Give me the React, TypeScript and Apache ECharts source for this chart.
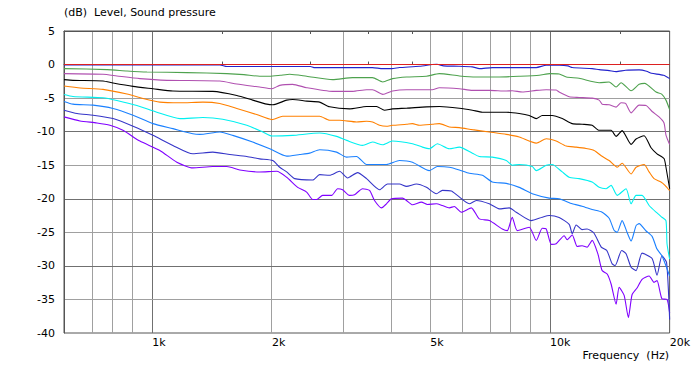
import React, { useEffect, useRef } from 'react';
import * as echarts from 'echarts';

// ---- axis / tick data ----
const xLabelFreqs = [1000, 2000, 5000, 10000, 20000];
const xLabelTexts = ['1k', '2k', '5k', '10k', '20k'];
const minorTickFreqs = [1500, 2500, 3500, 4500, 15000];
const lightGridFreqs = [700, 800, 900, 2000, 3000, 4000, 5000, 6000, 7000, 8000, 9000];
const darkGridFreqs = [1000, 10000];
const lightGridDb = [-35, -25, -15, -5];
const darkGridDb = [-30, -20, -10, 0];
const X_MIN = 600;
const X_MAX = 20000;

// ---- series data: [frequency Hz, level dB] ----
const redCurve: [number, number][] = [[600, 0], [20000, 0]];
const blueCurve: [number, number][] = [[600,-0.05],[1480,-0.05],[1540,-0.3],[2500,-0.3],[2550,-0.45],[3580,-0.45],[3800,-0.6],[4000,-0.6],[4185,-0.45],[4700,-0.25],[5060,0],[5200,0.05],[5400,-0.2],[5900,-0.25],[6380,-0.35],[6650,-0.6],[7160,-0.45],[9240,-0.45],[9790,-0.1],[10550,-0.1],[11100,-0.2],[11380,-0.45],[12770,-0.6],[13300,-0.75],[14100,-0.9],[14670,-1.05],[15500,-0.85],[16760,-0.8],[17500,-1.0],[18000,-1.3],[19300,-1.6],[20000,-2.1]];
const greenCurve: [number, number][] = [[600,-0.6],[770,-0.75],[864,-0.95],[970,-1.1],[1222,-1.2],[1540,-1.35],[1700,-1.5],[1863,-1.75],[1975,-1.75],[2100,-1.6],[2216,-1.45],[2445,-1.75],[2842,-2.25],[3190,-1.95],[3580,-1.95],[3800,-2.6],[4020,-2.1],[4360,-1.85],[4890,-1.75],[5270,-1.35],[5920,-1.7],[6530,-1.85],[7460,-1.85],[8370,-1.75],[9400,-1.6],[10000,-1.35],[10550,-1.4],[11000,-1.85],[11840,-2.05],[13300,-2.7],[14090,-2.6],[14670,-3.35],[15100,-2.7],[16000,-3.9],[16760,-2.95],[17300,-2.8],[18490,-4.1],[19100,-4.4],[19580,-5.3],[20000,-6.7]];
const magentaCurve: [number, number][] = [[600,-1.35],[752,-1.45],[815,-1.7],[931,-2.1],[1089,-2.35],[1479,-2.45],[1632,-2.9],[1863,-3.35],[2000,-3.6],[2092,-3.1],[2255,-2.95],[2445,-3.45],[2842,-4.0],[3190,-4.0],[3460,-3.75],[3580,-3.75],[3800,-4.45],[4020,-3.95],[4360,-3.75],[5060,-3.75],[5270,-3.45],[5920,-3.6],[6380,-3.85],[7040,-3.85],[7770,-3.95],[8040,-3.9],[8520,-4.1],[9240,-3.85],[9790,-3.75],[10370,-3.8],[10550,-4.1],[11180,-4.8],[11840,-4.9],[12770,-5.0],[13300,-5.3],[13530,-5.9],[14090,-6.0],[14670,-6.35],[15100,-5.7],[15500,-5.8],[16000,-7.2],[16760,-6.05],[17450,-6.1],[18070,-7.0],[18810,-7.8],[19360,-8.7],[19580,-10.5],[20000,-11.9]];
const blackCurve: [number, number][] = [[600,-2.25],[632,-2.35],[752,-2.45],[797,-2.75],[895,-3.25],[1004,-3.6],[1127,-3.95],[1420,-4.0],[1632,-4.6],[1789,-5.3],[1941,-5.9],[2010,-6.0],[2178,-5.3],[2255,-5.2],[2445,-5.45],[2636,-5.6],[2793,-6.3],[3135,-6.6],[3459,-6.25],[3664,-6.25],[3838,-6.8],[4019,-6.6],[4358,-6.5],[4892,-6.3],[5272,-6.25],[5918,-6.5],[6383,-6.8],[6762,-7.1],[7767,-7.1],[8372,-7.3],[8872,-7.6],[9240,-8.05],[9565,-7.6],[10130,-7.6],[10740,-8.05],[11380,-8.8],[12050,-8.9],[12770,-9.05],[13300,-9.8],[14250,-9.8],[14670,-10.7],[15190,-9.85],[16000,-11.9],[16470,-11.1],[17250,-10.6],[17960,-12.4],[18590,-13.3],[19360,-14.0],[19580,-15.3],[20000,-18.5]];
const orangeCurve: [number, number][] = [[600,-3.2],[659,-3.5],[752,-3.7],[864,-4.4],[948,-5.05],[1045,-5.6],[1174,-5.7],[1341,-5.6],[1479,-5.8],[1632,-6.55],[1831,-7.45],[2000,-8.2],[2128,-7.7],[2348,-7.7],[2636,-7.7],[2793,-8.3],[2959,-8.3],[3264,-8.55],[3459,-8.45],[3581,-8.55],[3729,-9.05],[3882,-9.2],[4019,-9.05],[4358,-8.9],[4512,-8.8],[4698,-9.05],[5064,-8.9],[5272,-8.8],[5586,-9.3],[5918,-9.4],[6383,-9.7],[7040,-10.05],[7767,-10.4],[8372,-10.8],[9240,-11.7],[9788,-11.05],[10370,-11.4],[10990,-12.15],[11640,-12.3],[12330,-12.5],[12920,-12.8],[13460,-13.6],[14090,-14.3],[14760,-15.3],[15190,-14.7],[16000,-16.3],[16470,-15.3],[17250,-14.9],[17760,-16.0],[18270,-17.0],[19020,-17.5],[19470,-18.0],[20000,-18.8]];
const cyanCurve: [number, number][] = [[600,-4.45],[632,-4.75],[752,-4.95],[815,-5.35],[915,-6.1],[1027,-7.1],[1174,-8.05],[1341,-7.9],[1504,-8.15],[1729,-9.05],[1898,-10.05],[2000,-10.65],[2255,-10.55],[2636,-10.2],[2908,-10.7],[3082,-11.3],[3380,-12.05],[3581,-11.55],[3794,-11.95],[4019,-11.4],[4512,-11.8],[4781,-12.3],[4977,-12.55],[5212,-11.8],[5586,-12.55],[5918,-12.3],[6383,-13.2],[6645,-13.7],[7163,-13.8],[7767,-14.3],[8041,-15.0],[8372,-14.9],[9029,-15.2],[9240,-15.8],[9788,-15.0],[10130,-14.9],[10740,-16.0],[11180,-16.8],[11840,-17.0],[12770,-17.5],[13300,-18.3],[13850,-18.5],[14250,-18.0],[14760,-19.5],[15540,-18.5],[16000,-20.75],[16470,-19.5],[17050,-19.5],[17760,-21.0],[18490,-22.0],[19130,-22.75],[19580,-23.25],[19700,-26.7],[20000,-29.0]];
const azureCurve: [number, number][] = [[600,-5.5],[632,-5.9],[710,-6.05],[797,-6.55],[895,-7.55],[1004,-8.8],[1127,-9.55],[1265,-10.3],[1317,-10.4],[1479,-10.05],[1594,-10.55],[1789,-11.55],[1975,-12.55],[2178,-13.65],[2348,-13.4],[2488,-13.2],[2636,-12.7],[2908,-13.05],[3082,-13.8],[3264,-13.7],[3459,-14.9],[3882,-14.9],[4185,-14.3],[4512,-14.55],[4977,-15.8],[5212,-15.2],[5586,-15.3],[5918,-15.7],[6270,-16.2],[6762,-16.5],[7163,-17.5],[7767,-17.7],[8372,-18.3],[9029,-19.25],[9959,-19.9],[10550,-20.0],[11380,-20.75],[12050,-21.1],[12770,-21.6],[13530,-22.0],[14090,-22.9],[14500,-24.7],[14760,-25.0],[15190,-23.25],[15630,-25.0],[16000,-26.3],[16470,-24.0],[16760,-23.7],[17450,-24.8],[18070,-25.6],[18590,-27.5],[19130,-28.5],[20000,-31.5]];
const indigoCurve: [number, number][] = [[600,-6.8],[647,-7.3],[710,-7.55],[797,-8.05],[895,-9.2],[1004,-10.55],[1127,-12.05],[1265,-13.3],[1420,-13.05],[1567,-13.4],[1729,-13.7],[1863,-14.05],[2010,-14.3],[2092,-15.3],[2178,-16.0],[2281,-17.0],[2532,-17.2],[2636,-16.4],[2793,-16.5],[2959,-15.9],[3099,-16.9],[3283,-16.1],[3459,-17.0],[3729,-18.65],[3905,-17.8],[4185,-17.8],[4358,-18.15],[4617,-17.8],[4892,-18.3],[5182,-19.25],[5365,-18.75],[5651,-18.85],[5850,-19.5],[6270,-20.75],[6531,-20.25],[7040,-20.75],[7459,-21.5],[7902,-21.35],[8229,-22.0],[8974,-23.25],[9565,-22.75],[9959,-22.5],[10550,-22.8],[11180,-23.8],[11380,-25.2],[11640,-23.9],[12050,-24.6],[12400,-24.5],[12900,-25.1],[13460,-27.2],[13900,-27.7],[14340,-29.7],[14590,-29.95],[15150,-27.7],[15540,-28.2],[16000,-30.2],[16470,-30.7],[17050,-28.1],[18070,-28.9],[18590,-31.4],[19130,-28.5],[19650,-29.5],[20000,-38.0]];
const violetCurve: [number, number][] = [[600,-7.8],[658,-8.4],[726,-8.7],[783,-9.05],[844,-9.8],[931,-11.4],[1045,-12.8],[1153,-14.55],[1265,-15.4],[1420,-15.2],[1540,-15.2],[1660,-15.7],[1863,-16.0],[2056,-15.9],[2178,-16.8],[2321,-18.3],[2445,-19.0],[2532,-20.1],[2591,-20.1],[2682,-19.5],[2825,-19.5],[2925,-18.5],[3011,-18.65],[3135,-19.5],[3227,-19.4],[3380,-18.5],[3520,-18.75],[3622,-20.25],[3772,-21.35],[3882,-20.75],[3996,-20.0],[4258,-19.9],[4358,-20.25],[4512,-20.9],[4753,-20.5],[4920,-20.85],[5182,-20.75],[5365,-21.0],[5586,-21.35],[5750,-21.15],[5987,-22.0],[6343,-21.35],[6645,-23.0],[7040,-23.25],[7590,-24.5],[7812,-24.75],[8041,-22.75],[8276,-24.75],[8872,-24.25],[9240,-26.2],[9565,-24.4],[9788,-24.5],[10080,-26.8],[10370,-26.7],[10860,-25.5],[11050,-26.1],[11380,-25.4],[11710,-27.1],[12050,-27.0],[12400,-27.2],[12770,-26.2],[13200,-28.2],[13530,-30.7],[13930,-31.2],[14250,-32.7],[14670,-35.7],[14930,-33.2],[15370,-34.4],[15750,-37.7],[16090,-34.3],[16560,-33.3],[17050,-32.0],[17760,-31.5],[18270,-32.45],[18590,-32.2],[19130,-34.9],[19700,-35.0],[20000,-37.0]];

const curves = [
  { name: 'c9', color: '#8000ff', data: violetCurve },
  { name: 'c8', color: '#3535c8', data: indigoCurve },
  { name: 'c7', color: '#1a80ff', data: azureCurve },
  { name: 'c6', color: '#00f0f0', data: cyanCurve },
  { name: 'c5', color: '#ff8000', data: orangeCurve },
  { name: 'c4', color: '#000000', data: blackCurve },
  { name: 'c3', color: '#b050b0', data: magentaCurve },
  { name: 'c2', color: '#4ea24e', data: greenCurve },
  { name: 'c1', color: '#2222cc', data: blueCurve },
  { name: 'c0', color: '#dd2020', data: redCurve },
];

const FONT = "'DejaVu Sans', Verdana, sans-serif";
const lg = (f: number) => Math.log10(f);

export default function App() {
  const ref = useRef<HTMLDivElement>(null);
  useEffect(() => {
    if (!ref.current) return;
    const chart = echarts.init(ref.current, undefined, { renderer: 'svg' });
    const LIGHT = '#a0a0a0';
    const DARK = '#707070';
    const gridLines: any[] = [
      ...lightGridFreqs.map((f) => ({ xAxis: lg(f), lineStyle: { color: LIGHT } })),
      ...darkGridFreqs.map((f) => ({ xAxis: lg(f), lineStyle: { color: DARK } })),
      ...lightGridDb.map((v) => ({ yAxis: v, lineStyle: { color: LIGHT } })),
      ...darkGridDb.map((v) => ({ yAxis: v, lineStyle: { color: DARK } })),
    ];
    const xCommon = {
      type: 'value',
      min: lg(X_MIN),
      max: lg(X_MAX),
      splitLine: { show: false },
      axisLine: { show: true, lineStyle: { color: '#555555', width: 1 } },
      axisTick: {
        show: true,
        inside: true,
        length: 3,
        customValues: minorTickFreqs.map(lg),
        lineStyle: { color: '#555555' },
      },
    };
    chart.setOption({
      animation: false,
      backgroundColor: '#ffffff',
      grid: { left: 64, right: 23, top: 31, bottom: 35, show: true, borderColor: '#555555', borderWidth: 1 },
      xAxis: [
        {
          ...xCommon,
          position: 'bottom',
          axisLabel: {
            show: true,
            customValues: xLabelFreqs.map(lg),
            formatter: (v: number) => {
              const f = Math.round(Math.pow(10, v));
              const i = xLabelFreqs.findIndex((q) => Math.abs(q - f) < 1);
              return i >= 0 ? xLabelTexts[i] : '';
            },
            align: 'left',
            margin: 4,
            color: '#000000',
            fontSize: 11,
            fontFamily: FONT,
          },
        },
        { ...xCommon, position: 'top', axisLabel: { show: false } },
      ],
      yAxis: {
        type: 'value',
        min: -40,
        max: 5,
        interval: 5,
        splitLine: { show: false },
        axisTick: { show: false },
        axisLine: { show: true, lineStyle: { color: '#555555', width: 1 } },
        axisLabel: { color: '#000000', fontSize: 11, fontFamily: FONT, margin: 9 },
      },
      graphic: [
        {
          type: 'text',
          left: 64,
          top: 7,
          style: { text: '(dB)  Level, Sound pressure', font: `11px ${FONT}`, fill: '#000000' },
        },
        {
          type: 'text',
          right: 24,
          top: 350,
          style: { text: 'Frequency  (Hz)', font: `11px ${FONT}`, fill: '#000000' },
        },
      ],
      series: [
        {
          type: 'line',
          name: 'grid',
          data: [],
          silent: true,
          z: 0,
          markLine: {
            z: 0,
            silent: true,
            symbol: 'none',
            label: { show: false },
            emphasis: { disabled: true },
            lineStyle: { type: 'solid', width: 1 },
            data: gridLines,
          },
        },
        ...curves.map((c, i) => ({
          type: 'line',
          name: c.name,
          data: c.data.map(([f, v]) => [lg(f), v]),
          showSymbol: false,
          symbol: 'none',
          silent: true,
          smooth: 0.2,
          z: 3 + i,
          lineStyle: { color: c.color, width: 1.1 },
          itemStyle: { color: c.color },
        })),
      ],
    });
    return () => chart.dispose();
  }, []);
  return (
    <div
      ref={ref}
      style={{ position: 'fixed', left: 0, top: 0, width: 693, height: 368, background: '#fff' }}
    />
  );
}
